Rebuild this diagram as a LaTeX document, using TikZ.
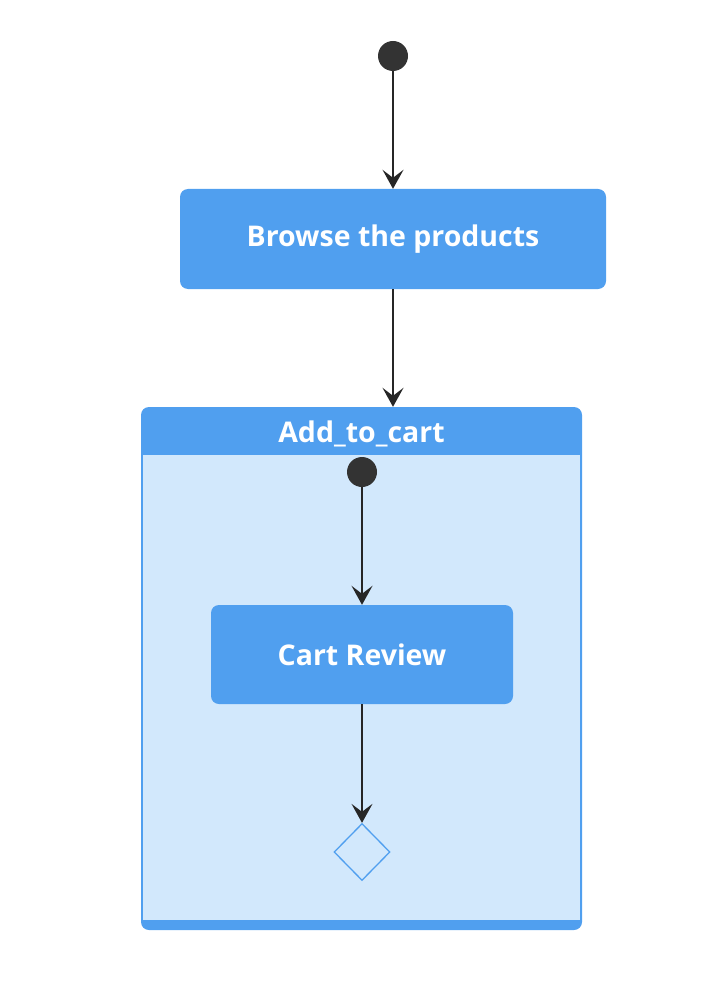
\documentclass[tikz,border=0pt]{standalone}
\usepackage{fontspec}
\setmainfont{Open Sans}
\usetikzlibrary{arrows.meta,shapes.geometric}
\definecolor{hdr}{RGB}{80,159,239}
\definecolor{bodyc}{RGB}{210,232,252}
\definecolor{dotc}{RGB}{51,51,51}
\begin{document}
\begin{tikzpicture}[x=1pt,y=-1pt,
  startdot/.style={circle,fill=dotc,minimum size=30pt,inner sep=0pt},
  statebox/.style={rectangle,rounded corners=8pt,fill=hdr,text=white,inner sep=0pt,font=\fontsize{28.5}{32}\selectfont\bfseries},
  compbox/.style={rectangle,rounded corners=8pt,fill=hdr,inner sep=0pt},
  lbl/.style={text=white,inner sep=0pt,font=\fontsize{28.5}{32}\selectfont\bfseries},
  arr/.style={-{Stealth[length=19pt,width=21pt,inset=8pt]},line width=1.4pt,draw=black!85},
  choicebox/.style={diamond,draw=hdr,fill=bodyc,line width=1.3pt,minimum width=56pt,minimum height=57pt,inner sep=0pt}]
\useasboundingbox (0,0) rectangle (722,1008);
\node[startdot] (s1) at (393,56) {};
\node[statebox,minimum width=426pt,minimum height=100pt] (browse) at (393,239) {\raisebox{-3pt}{Browse the products}};
\node[compbox,minimum width=441pt,minimum height=523pt] (cart) at (361.5,668.5) {};
\fill[bodyc] (143,455) rectangle (580,920);
\node[lbl] (cartlabel) at (361.5,434) {Add\_to\_cart};
\node[startdot] (s2) at (362,472) {};
\node[statebox,minimum width=302pt,minimum height=99pt] (review) at (362,654.5) {\raisebox{-3pt}{Cart Review}};
\node[choicebox] (choice) at (362,852) {};
\draw[arr] (s1) -- (browse);
\draw[arr] (browse.south) -- (browse.south |- cart.north);
\draw[arr] (s2) -- (review);
\draw[arr] (review) -- (choice);
\end{tikzpicture}
\end{document}
